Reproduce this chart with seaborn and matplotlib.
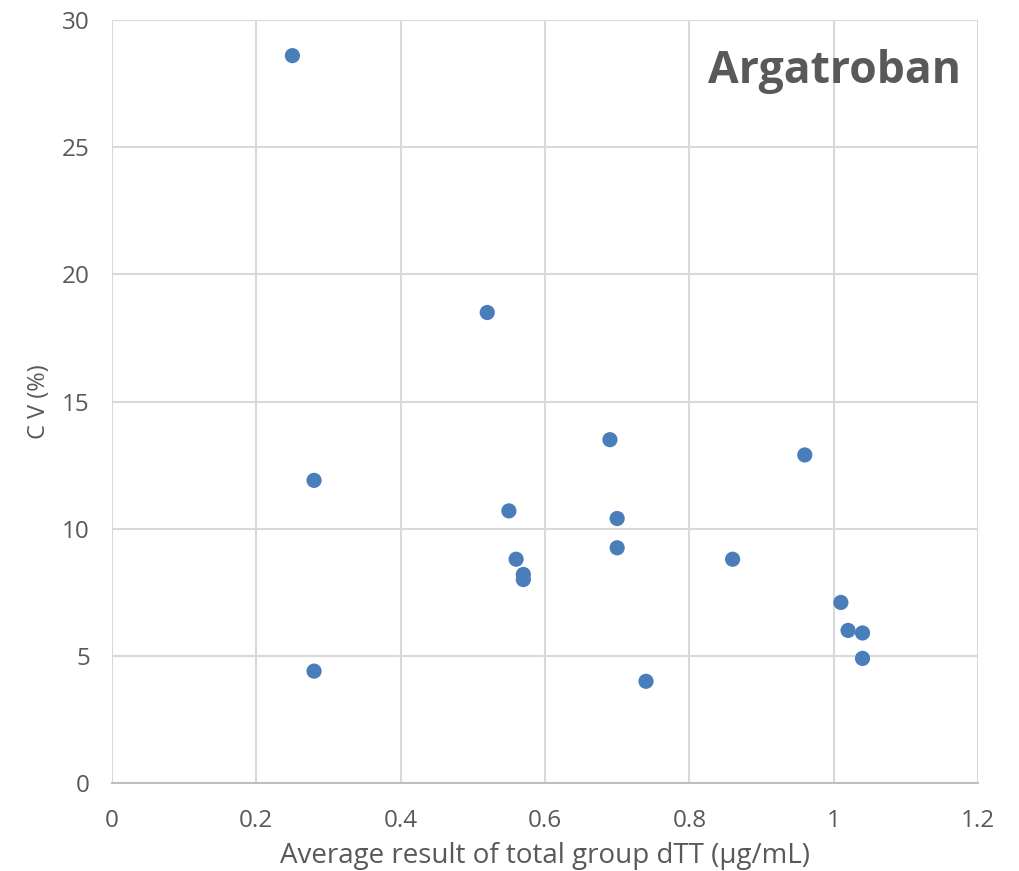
import matplotlib
matplotlib.use("Agg")
import matplotlib.pyplot as plt
import seaborn as sns
import pandas as pd

# Average dTT result per group and coefficient of variation
avg_dtt = [0.25, 0.52, 0.28, 0.28, 0.55, 0.56, 0.57, 0.57, 0.69, 0.70,
           0.70, 0.74, 0.86, 0.96, 1.01, 1.02, 1.04, 1.04]
cv_pct = [28.6, 18.5, 11.9, 4.4, 10.7, 8.8, 8.2, 8.0, 13.5, 10.4,
          9.25, 4.0, 8.8, 12.9, 7.1, 6.0, 5.9, 4.9]

x_ticks = [0, 0.2, 0.4, 0.6, 0.8, 1, 1.2]
x_tick_labels = ["0", "0.2", "0.4", "0.6", "0.8", "1", "1.2"]
y_ticks = [0, 5, 10, 15, 20, 25, 30]

df = pd.DataFrame({"avg": avg_dtt, "cv": cv_pct})

sns.set_theme(style="white")
plt.rcParams["font.family"] = ["Open Sans", "DejaVu Sans"]

text_color = "#595959"
grid_color = "#d9d9d9"

fig = plt.figure(figsize=(10.2, 8.71), dpi=100)
ax = fig.add_axes([0.1098, 0.101, 0.849, 0.876])

sns.scatterplot(data=df, x="avg", y="cv", ax=ax, color="#4a7ebb",
                s=120, edgecolor="none", zorder=3)

ax.set_xlim(0, 1.2)
ax.set_ylim(0, 30)
ax.set_xticks(x_ticks)
ax.set_xticklabels(x_tick_labels)
ax.set_yticks(y_ticks)

ax.grid(True, color=grid_color, linewidth=1.5)
for side in ["left", "top", "right"]:
    ax.spines[side].set_visible(False)
ax.spines["bottom"].set_color("#bfbfbf")
ax.spines["bottom"].set_linewidth(1.5)
ax.spines["bottom"].set_zorder(2)

ax.tick_params(axis="both", length=0, labelsize=17.5, colors=text_color)
ax.tick_params(axis="x", pad=19)
ax.tick_params(axis="y", pad=16)
ax.set_xlabel("Average result of total group dTT (μg/mL)", fontsize=20,
              color=text_color, labelpad=6)
ax.set_ylabel("C V (%)", fontsize=17, color=text_color, labelpad=8)

ax.text(0.98, 0.932, "Argatroban", transform=ax.transAxes, ha="right", va="center",
        fontsize=32, fontweight="bold", color=text_color)

fig.savefig("out.png", dpi=100)
